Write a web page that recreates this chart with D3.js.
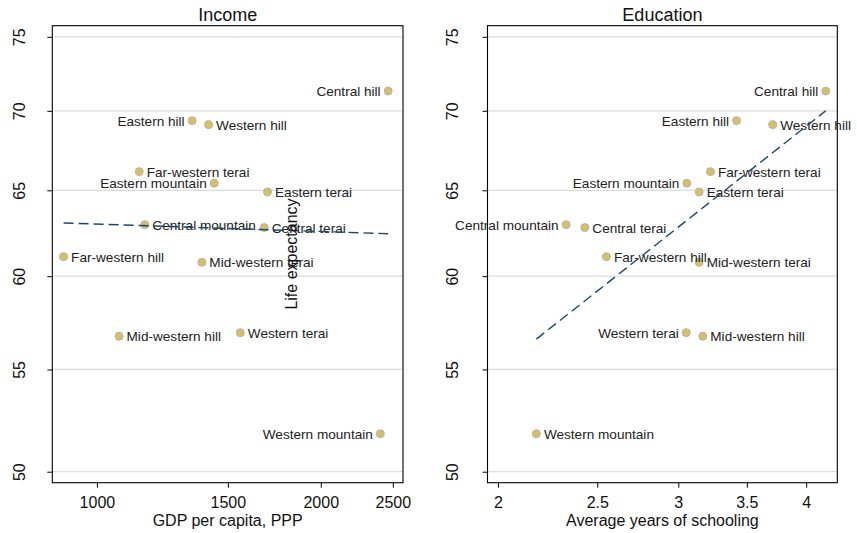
<!DOCTYPE html>
<html>
<head>
<meta charset="utf-8">
<script src="https://cdn.jsdelivr.net/npm/d3@7"></script>
<style>
  html, body { margin: 0; padding: 0; background: #ffffff; }
  svg { display: block; font-family: "Liberation Sans", Arial, sans-serif; }
</style>
</head>
<body>
<svg id="chart" width="857" height="533"></svg>
<script>
// ---- data ----
const regions = ["Central hill", "Eastern hill", "Western hill", "Far-western terai",
  "Eastern mountain", "Eastern terai", "Central mountain", "Central terai",
  "Far-western hill", "Mid-western terai", "Mid-western hill", "Western terai",
  "Western mountain"];
const gdpPerCapita = [2464, 1343, 1413, 1140, 1438, 1696, 1160, 1679, 902, 1384, 1071, 1559, 2405];
const schooling = [4.18, 3.42, 3.71, 3.225, 3.058, 3.144, 2.331, 2.431, 2.552, 3.144, 3.17, 3.054, 2.18];
const lifeExpectancy = [71.3, 69.36, 69.1, 66.14, 65.43, 64.9, 62.95, 62.78, 61.1, 60.78, 56.73, 56.92, 51.8];
// label clock positions (9 = left, 3 = right)
const labelPosIncome = [9, 9, 3, 3, 9, 3, 3, 3, 3, 3, 3, 3, 9];
const labelPosEducation = [9, 9, 3, 3, 9, 3, 9, 3, 3, 3, 3, 9, 3];
// fitted lines (endpoints)
const incomeFitX = [902, 2464];
const incomeFitY = [63.05, 62.42];
const educationFitX = [2.18, 4.18];
const educationFitY = [56.58, 70.0];
// ticks
const incomeTicks = [1000, 1500, 2000, 2500];
const educationTicks = [2, 2.5, 3, 3.5, 4];
const yTicks = [50, 55, 60, 65, 70, 75];

// ---- drawing ----
const svg = d3.select("#chart");
const plotTop = 25.7, plotBottom = 482.7;
const y = d3.scaleLog().domain([49.49, 75.78]).range([plotBottom, plotTop]);

function panel(opts) {
  const g = svg.append("g");
  const x = d3.scaleLog().domain(opts.xDomain).range([opts.left, opts.right]);

  // gridlines
  g.selectAll("line.grid").data(yTicks).enter().append("line")
    .attr("x1", opts.left).attr("x2", opts.right)
    .attr("y1", d => y(d)).attr("y2", d => y(d))
    .attr("stroke", "#dcdcdc").attr("stroke-width", 1.3);

  // y axis
  const ya = g.append("g").attr("transform", `translate(${opts.left},0)`)
    .call(d3.axisLeft(y).tickValues(yTicks).tickSize(5).tickPadding(0).tickFormat(d3.format("d")));
  ya.select(".domain").remove();
  ya.selectAll(".tick line").attr("stroke", "#000");
  ya.selectAll(".tick text").remove();
  ya.selectAll(".tick").append("text")
    .attr("transform", `translate(${opts.yLabelX - opts.left},0) rotate(-90)`)
    .attr("text-anchor", "middle")
    .attr("fill", "#111")
    .attr("font-size", 16)
    .attr("font-family", "Liberation Sans, Arial, sans-serif")
    .text(d => d);

  // x axis
  const xa = g.append("g").attr("transform", `translate(0,${plotBottom})`)
    .call(d3.axisBottom(x).tickValues(opts.xTicks).tickSize(5).tickFormat(d => d));
  xa.select(".domain").remove();
  xa.selectAll(".tick line").attr("stroke", "#000");
  xa.selectAll(".tick text")
    .attr("y", null).attr("dy", null)
    .attr("transform", `translate(0,${508 - plotBottom})`)
    .attr("fill", "#111")
    .attr("font-size", 16)
    .attr("font-family", "Liberation Sans, Arial, sans-serif");

  // box
  g.append("rect")
    .attr("x", opts.left).attr("y", plotTop)
    .attr("width", opts.right - opts.left).attr("height", plotBottom - plotTop)
    .attr("fill", "none").attr("stroke", "#000").attr("stroke-width", 1.1);

  // title
  g.append("text")
    .attr("x", (opts.left + opts.right) / 2).attr("y", 20.5)
    .attr("text-anchor", "middle").attr("font-size", 18).attr("fill", "#111")
    .text(opts.title);

  // axis title
  g.append("text")
    .attr("x", (opts.left + opts.right) / 2).attr("y", 526)
    .attr("text-anchor", "middle").attr("font-size", 16).attr("fill", "#111")
    .text(opts.xTitle);

  // markers
  const idx = d3.range(regions.length);
  g.selectAll("circle.pt").data(idx).enter().append("circle")
    .attr("cx", i => x(opts.xVals[i])).attr("cy", i => y(lifeExpectancy[i]))
    .attr("r", 4)
    .attr("fill", "#d6c062").attr("stroke", "#b4b4b4").attr("stroke-width", 1);

  // labels
  g.selectAll("text.lbl").data(idx).enter().append("text")
    .attr("x", i => x(opts.xVals[i]) + (opts.pos[i] === 9 ? -7.5 : 7.5))
    .attr("y", i => y(lifeExpectancy[i]) + 5.2)
    .attr("text-anchor", i => opts.pos[i] === 9 ? "end" : "start")
    .attr("font-size", 13.6).attr("fill", "#222")
    .text(i => regions[i]);

  // fitted line
  const line = d3.line().x(d => x(d[0])).y(d => y(d[1]));
  g.append("path")
    .datum(d3.zip(opts.fitX, opts.fitY))
    .attr("d", line)
    .attr("fill", "none").attr("stroke", "#1a476f").attr("stroke-width", 1.4)
    .attr("stroke-dasharray", "10,5");
}

panel({
  left: 52.3, right: 403, xDomain: [871, 2580], xTicks: incomeTicks,
  xVals: gdpPerCapita, pos: labelPosIncome, fitX: incomeFitX, fitY: incomeFitY,
  title: "Income", xTitle: "GDP per capita, PPP", yLabelX: 25
});
panel({
  left: 487.5, right: 837.3, xDomain: [1.953, 4.29], xTicks: educationTicks,
  xVals: schooling, pos: labelPosEducation, fitX: educationFitX, fitY: educationFitY,
  title: "Education", xTitle: "Average years of schooling", yLabelX: 458
});

// overall y title (as placed in the reference)
svg.append("text")
  .attr("transform", "translate(297,254) rotate(-90)")
  .attr("text-anchor", "middle").attr("font-size", 16).attr("fill", "#111")
  .text("Life expectancy");
</script>
</body>
</html>
